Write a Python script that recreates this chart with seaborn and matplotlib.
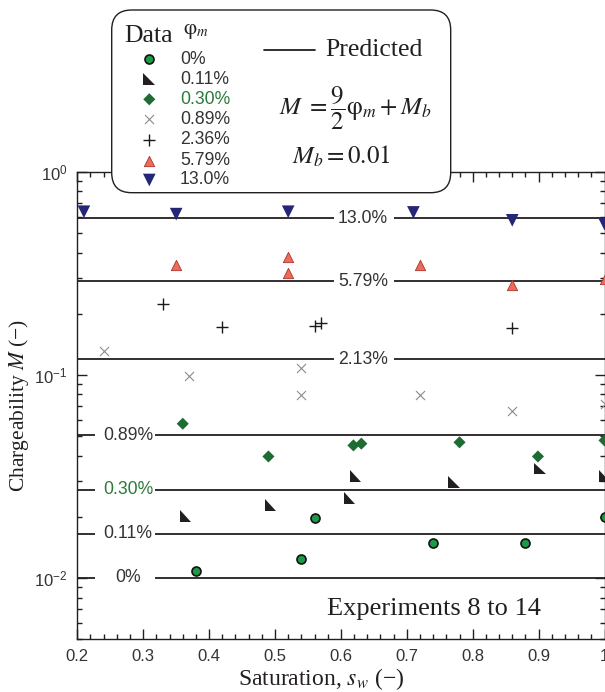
import matplotlib
matplotlib.use("Agg")
import numpy as np
import pandas as pd
import matplotlib.pyplot as plt
import seaborn as sns
from matplotlib.path import Path
from matplotlib.patches import FancyBboxPatch
from matplotlib.ticker import LogLocator, MultipleLocator, NullFormatter, FuncFormatter

# ---- measured chargeability vs. saturation, grouped by metal volume fraction ----
phi_labels = ["0%", "0.11%", "0.30%", "0.89%", "2.36%", "5.79%", "13.0%"]

sat_000 = [0.38, 0.54, 0.56, 0.74, 0.88, 1.00]
chg_000 = [0.0108, 0.0124, 0.0198, 0.0148, 0.0148, 0.0199]
sat_011 = [0.364, 0.493, 0.613, 0.622, 0.772, 0.902, 1.00]
chg_011 = [0.0201, 0.0228, 0.0247, 0.0317, 0.0297, 0.0346, 0.0317]
sat_030 = [0.36, 0.49, 0.619, 0.631, 0.78, 0.899, 1.00]
chg_030 = [0.0574, 0.0396, 0.0449, 0.0458, 0.0465, 0.0396, 0.0475]
sat_089 = [0.24, 0.37, 0.54, 0.54, 0.72, 0.86, 1.00]
chg_089 = [0.131, 0.0991, 0.1085, 0.0793, 0.0793, 0.0661, 0.0721]
sat_236 = [0.33, 0.42, 0.56, 0.57, 0.86]
chg_236 = [0.2235, 0.171, 0.174, 0.179, 0.169]
sat_579 = [0.35, 0.52, 0.52, 0.72, 0.86, 1.00]
chg_579 = [0.347, 0.378, 0.318, 0.347, 0.276, 0.295]
sat_130 = [0.21, 0.35, 0.52, 0.71, 0.86, 1.00]
chg_130 = [0.635, 0.618, 0.635, 0.630, 0.576, 0.552]

# predicted chargeability levels (M = 9/2 phi_m + M_b) and their labels
pred_labels = ["0%", "0.11%", "0.30%", "0.89%", "2.13%", "5.79%", "13.0%"]
pred_M = [0.0100, 0.0165, 0.0272, 0.0503, 0.119, 0.289, 0.589]

sat_series = [sat_000, sat_011, sat_030, sat_089, sat_236, sat_579, sat_130]
chg_series = [chg_000, chg_011, chg_030, chg_089, chg_236, chg_579, chg_130]

frames = [pd.DataFrame({"sw": s, "M": m, "phi": lab})
          for s, m, lab in zip(sat_series, chg_series, phi_labels)]
df = pd.concat(frames, ignore_index=True)

# ---- styling ----
sns.set_theme(style="ticks")
plt.rcParams["font.family"] = ["Liberation Sans", "DejaVu Sans"]
plt.rcParams["mathtext.fontset"] = "stix"
INK = "#231f20"
GREEN_TXT = "#2c7a3c"
GREY_TXT = "#333333"
SERIF = ["Liberation Serif", "DejaVu Serif"]
LBL_SIZE = 12.7

corner_tri = Path([(-1, 1), (-1, -1), (1, -1), (-1, 1)],
                  [Path.MOVETO, Path.LINETO, Path.LINETO, Path.CLOSEPOLY])

styles = {
    "0%":    dict(marker="o", s=42, color="#1c9a48", edgecolor="#111111", linewidth=1.2),
    "0.11%": dict(marker=corner_tri, s=70, color=INK, edgecolor="none", linewidth=0),
    "0.30%": dict(marker="D", s=38, color="#1e6b34", edgecolor="none", linewidth=0),
    "0.89%": dict(marker="x", s=42, color="#8c8c8c", linewidth=0.8),
    "2.36%": dict(marker="+", s=78, color="#1a1a1a", linewidth=1.0),
    "5.79%": dict(marker="^", s=55, color="#ef6a58", edgecolor="#a8352b", linewidth=0.6),
    "13.0%": dict(marker="v", s=83, color="#262677", edgecolor="none", linewidth=0),
}

fig = plt.figure(figsize=(6.05, 6.92), dpi=100)
ax = fig.add_axes([0.1278, 0.0766, 0.8714, 0.6753])

# predicted levels: horizontal lines broken around their labels
left_group = {"0%", "0.11%", "0.30%", "0.89%"}
for lab, m in zip(pred_labels, pred_M):
    if lab in left_group:
        gap, xt = (0.227, 0.318), 0.277
    else:
        gap, xt = (0.590, 0.681), 0.6335
    ax.hlines(m, 0.2, gap[0], color=INK, lw=1.3, zorder=2)
    ax.hlines(m, gap[1], 1.0, color=INK, lw=1.3, zorder=2)
    ax.text(xt, m, lab, ha="center", va="center", fontsize=LBL_SIZE,
            color=GREEN_TXT if lab == "0.30%" else GREY_TXT, zorder=3)

for lab in phi_labels:
    sub = df[df["phi"] == lab]
    sns.scatterplot(data=sub, x="sw", y="M", ax=ax, legend=False, zorder=4,
                    **styles[lab])

ax.set_yscale("log")
ax.set_xlim(0.2, 1.0)
ax.set_ylim(0.005, 1.0)

ax.xaxis.set_major_locator(MultipleLocator(0.1))
ax.xaxis.set_minor_locator(MultipleLocator(0.02))
ax.xaxis.set_major_formatter(FuncFormatter(lambda v, p: f"{v:g}"))
ax.yaxis.set_major_locator(LogLocator(base=10, numticks=10))
ax.yaxis.set_minor_locator(LogLocator(base=10, subs=np.arange(2, 10), numticks=20))
ax.yaxis.set_minor_formatter(NullFormatter())

ax.tick_params(which="both", direction="in", top=True, right=True,
               color=INK, width=1.0, labelsize=12, labelcolor=GREY_TXT)
ax.tick_params(which="major", length=7, pad=7)
ax.tick_params(which="minor", length=3.5)
for sp in ax.spines.values():
    sp.set_color(INK)
    sp.set_linewidth(1.0)

ax.set_xlabel(r"Saturation, $s_w$ (−)", family=SERIF, fontsize=17, color=INK)
ax.set_ylabel(r"Chargeability $M$ (−)", family=SERIF, fontsize=15.5, color=INK)
ax.xaxis.set_label_coords(0.462, -0.058)
ax.yaxis.set_label_coords(-0.087, 0.5)

ax.text(0.4737, 0.0514, "Experiments 8 to 14", transform=ax.transAxes,
        family=SERIF, fontsize=19, color=INK, ha="left", va="baseline")

# ---- key panel drawn on a pixel-unit overlay ----
lax = fig.add_axes([0, 0, 1, 1], zorder=5)
lax.set_xlim(0, 605)
lax.set_ylim(692, 0)
lax.axis("off")

box = FancyBboxPatch((111.7, 10), 339, 182.7,
                     boxstyle="round,pad=0,rounding_size=20",
                     fc="white", ec=INK, lw=1.0)
lax.add_patch(box)

lax.text(124, 42.5, "Data", family=SERIF, fontsize=18.5, color=INK, va="baseline")
lax.text(183, 34, r"$\mathrm{\varphi}_m$", fontsize=15, color=INK, va="baseline")

row_y = [59.3, 79.3, 99.3, 119.3, 140.0, 160.7, 180.0]
for lab, y in zip(phi_labels, row_y):
    lax.scatter([149.3], [y], clip_on=False, **styles[lab])
    lax.text(180, y, lab, fontsize=LBL_SIZE, va="center",
             color=GREEN_TXT if lab == "0.30%" else GREY_TXT)

lax.plot([264, 315], [50, 50], color=INK, lw=1.3)
lax.text(325, 50, "Predicted", family=SERIF, fontsize=18.5, color=INK, va="center")
lax.text(355, 108, r"$M\ =\dfrac{9}{2}\mathrm{\varphi}_m+M_b$", fontsize=18,
         color=INK, ha="center", va="center")
lax.text(341, 156, r"$M_b=0.01$", fontsize=18, color=INK, ha="center", va="center")

fig.savefig("out.png", dpi=100)
